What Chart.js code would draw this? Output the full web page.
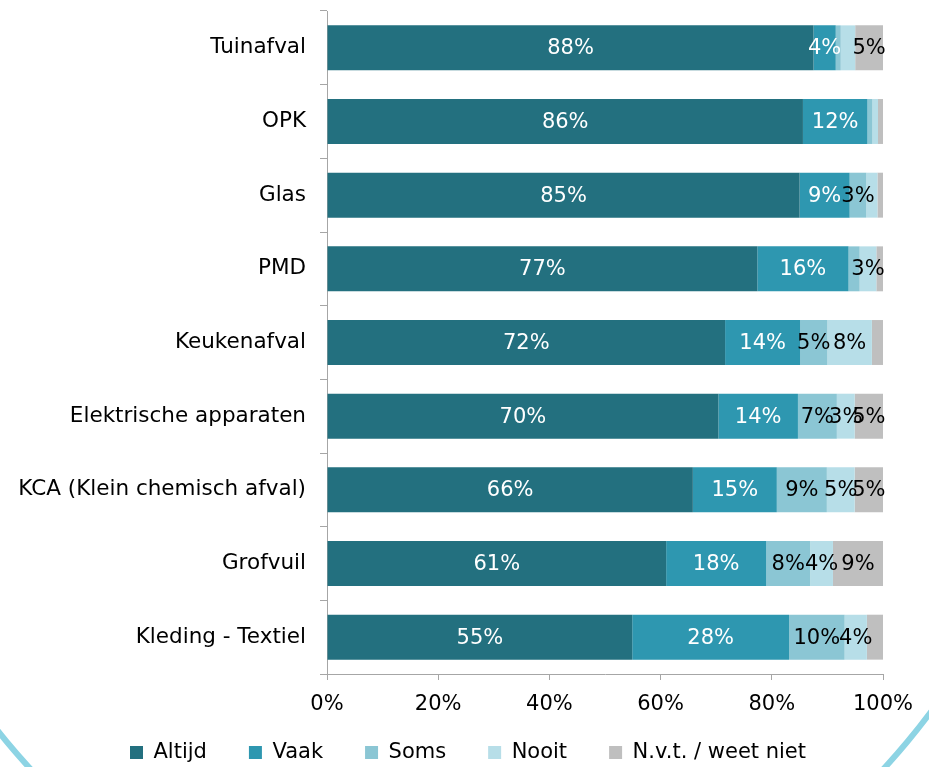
<!DOCTYPE html>
<html>
<head>
<meta charset="utf-8">
<style>
html, body { margin: 0; padding: 0; background: #fff; overflow: hidden; }
#wrap { position: relative; width: 929px; height: 767px; overflow: hidden; }
#ring { position: absolute; left: -183px; top: -569px; width: 1280px; height: 1538px;
        border: 6px solid #8dd4e4; border-radius: 50%; box-sizing: border-box; }
#chart { position: absolute; left: 0; top: 0; }
</style>
<script src="https://cdn.jsdelivr.net/npm/chart.js@4/dist/chart.umd.min.js"></script>
</head>
<body>
<div id="wrap">
  <div id="ring"></div>
  <canvas id="chart" width="929" height="773"></canvas>
</div>
<script>
// categorieën en waarden (in %)
const categories = ['Tuinafval', 'OPK', 'Glas', 'PMD', 'Keukenafval', 'Elektrische apparaten',
    'KCA (Klein chemisch afval)', 'Grofvuil', 'Kleding - Textiel'];
const altijd = [87.5, 85.6, 85, 77.4, 71.6, 70.4, 65.8, 61, 54.9];
const vaak = [4, 11.6, 9, 16.4, 13.5, 14.3, 15.1, 18, 28.2];
const soms = [0.9, 0.9, 3, 2, 4.9, 7, 9, 7.9, 10];
const nooit = [2.6, 1, 2, 3, 8, 3.2, 5, 4.1, 4];
const nvt = [5, 0.9, 1, 1.2, 2, 5.1, 5.1, 9, 2.9];
const seriesNames = ['Altijd', 'Vaak', 'Soms', 'Nooit', 'N.v.t. / weet niet'];
const xTicks = [0, 20, 40, 60, 80, 100];

const colors = ['#23707f', '#2e97b0', '#8bc6d4', '#b7dee8', '#bfbfbf'];
const labelColors = ['#fff', '#fff', '#000', '#000', '#000'];
const family = '"DejaVu Sans", Verdana, sans-serif';
const font = { family: family, size: 21 };
const catFont = { family: family, size: 21.5 };
const axisColor = '#a6a6a6';

// labels in de balken
const barLabels = {
    id: 'barLabels',
    afterLayout(chart) {
        // geen clipping van de aslabels
        chart.scales.x.bottom = chart.scales.x.top + 50;
        chart.scales.y.left = 0;
    },
    afterDatasetsDraw(chart) {
        const ctx = chart.ctx;
        ctx.save();
        ctx.font = `${font.size}px ${font.family}`;
        ctx.textAlign = 'center';
        ctx.textBaseline = 'middle';
        chart.data.datasets.forEach((ds, i) => {
            const meta = chart.getDatasetMeta(i);
            meta.data.forEach((bar, j) => {
                const v = ds.data[j];
                if (v < 3) return;
                ctx.fillStyle = labelColors[i];
                ctx.fillText(Math.round(v) + '%', (bar.x + bar.base) / 2, bar.y + 1);
            });
        });
        ctx.restore();
    }
};

const allData = [altijd, vaak, soms, nooit, nvt];

new Chart(document.getElementById('chart'), {
    type: 'bar',
    data: {
        labels: categories,
        datasets: allData.map((d, i) => ({
            label: seriesNames[i],
            data: d,
            backgroundColor: colors[i],
            borderWidth: 0,
            barPercentage: 0.61,
            categoryPercentage: 1
        }))
    },
    options: {
        indexAxis: 'y',
        responsive: false,
        animation: false,
        layout: { padding: { top: 11, right: 46, left: 53, bottom: 0 } },
        scales: {
            x: {
                stacked: true,
                min: 0,
                max: 100,
                afterBuildTicks: s => { s.ticks = xTicks.map(v => ({ value: v })); },
                afterFit: s => { s.height = 26; },
                ticks: { callback: v => v + '%', font: font, color: '#000', padding: 12, maxRotation: 0 },
                grid: { drawOnChartArea: false, tickLength: 6, color: axisColor },
                border: { color: axisColor }
            },
            y: {
                stacked: true,
                afterFit: s => { s.width = 274; s.paddingTop = 0; s.paddingBottom = 0; },
                ticks: { font: catFont, color: '#000', padding: 14 },
                grid: { drawOnChartArea: false, tickLength: 7, color: axisColor },
                border: { color: axisColor }
            }
        },
        plugins: {
            tooltip: { enabled: false },
            legend: {
                position: 'bottom',
                labels: { font: font, color: '#000', boxWidth: 13, boxHeight: 13, padding: 42 }
            }
        }
    },
    plugins: [barLabels]
});
</script>
</body>
</html>
